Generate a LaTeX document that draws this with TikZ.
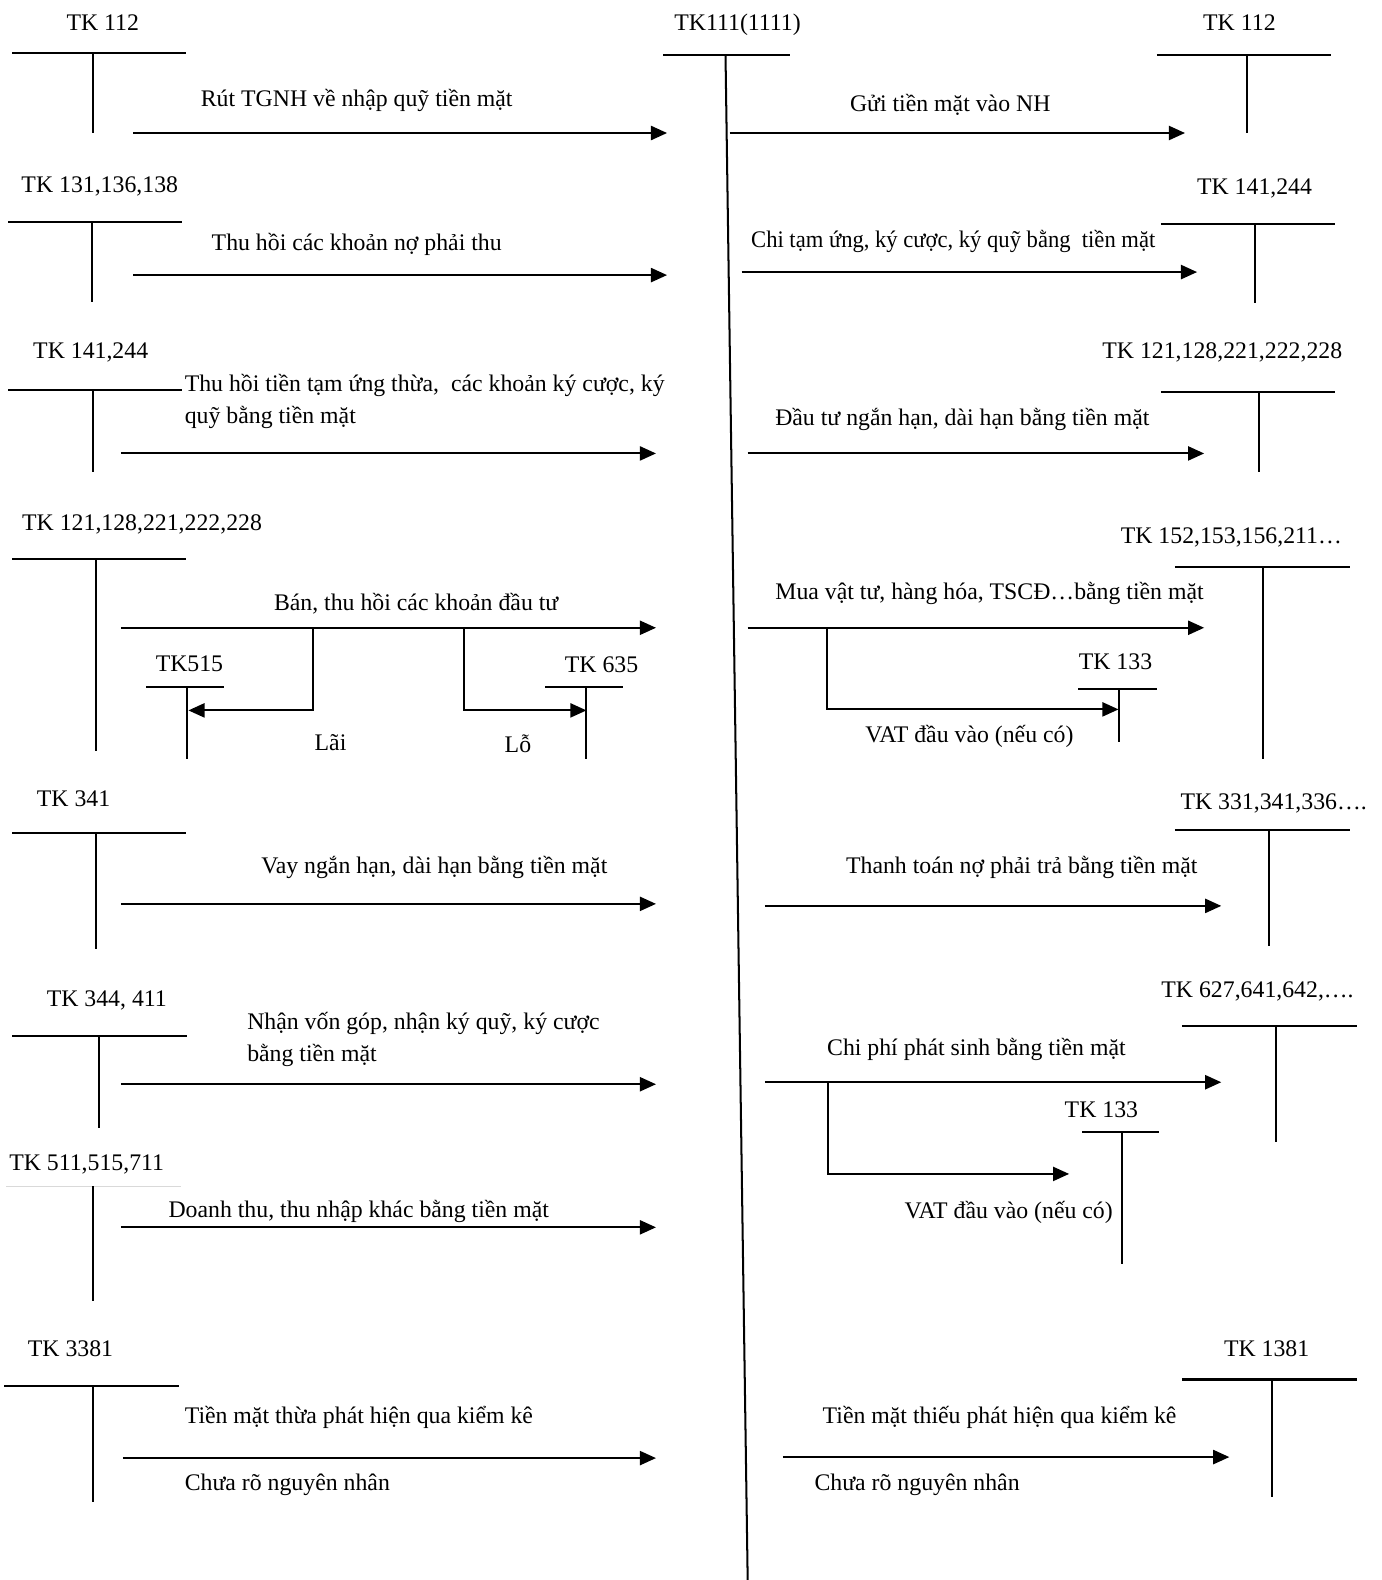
\documentclass[tikz,border=0pt]{standalone}
\usepackage{fontspec}
\setmainfont{Liberation Serif}
\usetikzlibrary{arrows.meta}

% T-account: name, label x, label baseline y, label text,
% bar left x, bar right x, bar y, stem x, stem bottom y
\newcommand\tacct[9]{%
  \node[lbl,anchor=base] (#1) at (#2,#3) {#4};
  \coordinate (#1-l) at (#5,#7);
  \coordinate (#1-r) at (#6,#7);
  \coordinate (#1-t) at (#8,#7);
  \coordinate (#1-b) at (#8,#9);
  \draw[tline] (#1-l) -- (#1-r);
  \draw[tline] (#1-t) -- (#1-b);
}

\begin{document}
\begin{tikzpicture}[x=0.5pt,y=-0.5pt,
  tline/.style={line width=1pt},
  flow/.style={line width=1pt,-{Triangle[length=8pt,width=7pt]}},
  lbl/.style={inner sep=0pt,font=\fontsize{11.8}{15.5}\selectfont},
  note/.style={lbl,anchor=base},
  notew/.style={lbl,anchor=base west,align=left}]
\useasboundingbox (0,0) rectangle (1371,1568);

% central cash account
\node[note] (k111) at (732,30) {TK111(1111)};
\coordinate (k111-l) at (658,55);
\coordinate (k111-r) at (784,55);
\coordinate (k111-t) at (720,55);
\coordinate (k111-b) at (742,1568);
\draw[tline] (k111-l) -- (k111-r);
\draw[tline] (k111-t) -- (k111-b);

% ---------------- left side (debit) ----------------
\tacct{L1}{102}{30}{TK 112}{12}{185}{53}{92}{132}
\coordinate (L1s) at (132,132); \coordinate (L1e) at (662,132);
\draw[flow] (L1s) -- (L1e);
\node[note] (L1t) at (354,106) {Rút TGNH về nhập quỹ tiền mặt};

\tacct{L2}{99}{191}{TK 131,136,138}{8}{181}{220}{91}{300}
\coordinate (L2s) at (132,273); \coordinate (L2e) at (662,273);
\draw[flow] (L2s) -- (L2e);
\node[note] (L2t) at (354,249) {Thu hồi các khoản nợ phải thu};

\tacct{L3}{90}{356}{TK 141,244}{8}{181}{387}{92}{468}
\coordinate (L3s) at (120,450); \coordinate (L3e) at (651,450);
\draw[flow] (L3s) -- (L3e);
\node[notew] (L3t) at (183,420) {Thu hồi tiền tạm ứng thừa,\ \ các khoản ký cược, ký\\quỹ bằng tiền mặt};

\tacct{L4}{141}{526}{TK 121,128,221,222,228}{12}{185}{555}{95}{745}
\coordinate (L4s) at (120,623); \coordinate (L4e) at (651,623);
\draw[flow] (L4s) -- (L4e);
\node[note] (L4t) at (413,606) {Bán, thu hồi các khoản đầu tư};
\tacct{K515}{188}{666}{TK515}{145}{222}{682}{186}{753}
\tacct{K635}{597}{667}{TK 635}{541}{618}{682}{582}{753}
\coordinate (L4a) at (311,623); \coordinate (L4ae) at (187,705);
\draw[flow] (L4a) |- (L4ae);
\coordinate (L4b) at (460,623); \coordinate (L4be) at (582,705);
\draw[flow] (L4b) |- (L4be);
\node[note] (lai) at (328,745) {Lãi};
\node[note] (lo) at (514,747) {Lỗ};

\tacct{L5}{73}{800}{TK 341}{12}{185}{827}{95}{942}
\coordinate (L5s) at (120,897); \coordinate (L5e) at (651,897);
\draw[flow] (L5s) -- (L5e);
\node[note] (L5t) at (431,867) {Vay ngắn hạn, dài hạn bằng tiền mặt};

\tacct{L6}{106}{999}{TK 344, 411}{12}{186}{1028}{98}{1119}
\coordinate (L6s) at (120,1076); \coordinate (L6e) at (651,1076);
\draw[flow] (L6s) -- (L6e);
\node[notew] (L6t) at (245,1053) {Nhận vốn góp, nhận ký quỹ, ký cược\\bằng tiền mặt};

% revenue account: faint top bar
\node[note] (L7) at (86,1162) {TK 511,515,711};
\coordinate (L7-l) at (6,1177); \coordinate (L7-r) at (180,1177);
\coordinate (L7-t) at (92,1177); \coordinate (L7-b) at (92,1291);
\draw[gray!30,line width=0.5pt] (L7-l) -- (L7-r);
\draw[tline] (L7-t) -- (L7-b);
\coordinate (L7s) at (120,1218); \coordinate (L7e) at (651,1218);
\draw[flow] (L7s) -- (L7e);
\node[note] (L7t) at (356,1208) {Doanh thu, thu nhập khác bằng tiền mặt};

\tacct{L8}{70}{1346}{TK 3381}{4}{178}{1375}{92}{1491}
\coordinate (L8s) at (122,1447); \coordinate (L8e) at (651,1447);
\draw[flow] (L8s) -- (L8e);
\node[notew] (L8t) at (183,1413) {Tiền mặt thừa phát hiện qua kiểm kê};
\node[notew] (L8u) at (183,1479) {Chưa rõ nguyên nhân};

% ---------------- right side (credit) ----------------
\tacct{R1}{1230}{30}{TK 112}{1148}{1321}{55}{1238}{132}
\coordinate (R1s) at (724,132); \coordinate (R1e) at (1176,132);
\draw[flow] (R1s) -- (R1e);
\node[note] (R1t) at (943,111) {Gửi tiền mặt vào NH};

\tacct{R2}{1245}{193}{TK 141,244}{1152}{1325}{222}{1245}{301}
\coordinate (R2s) at (736,270); \coordinate (R2e) at (1188,270);
\draw[flow] (R2s) -- (R2e);
\node[note,xscale=0.95] (R2t) at (946,246) {Chi tạm ứng, ký cược, ký quỹ bằng\ \ tiền mặt};

\tacct{R3}{1213}{356}{TK 121,128,221,222,228}{1152}{1325}{389}{1249}{468}
\coordinate (R3s) at (742,450); \coordinate (R3e) at (1195,450);
\draw[flow] (R3s) -- (R3e);
\node[note] (R3t) at (955,422) {Đầu tư ngắn hạn, dài hạn bằng tiền mặt};

\tacct{R4}{1222}{539}{TK 152,153,156,211…}{1166}{1340}{563}{1253}{753}
\coordinate (R4s) at (742,623); \coordinate (R4e) at (1195,623);
\draw[flow] (R4s) -- (R4e);
\node[note] (R4t) at (982,595) {Mua vật tư, hàng hóa, TSCĐ…bằng tiền mặt};
\tacct{K133a}{1107}{664}{TK 133}{1070}{1148}{684}{1110}{736}
\coordinate (R4a) at (821,623); \coordinate (R4ae) at (1110,704);
\draw[flow] (R4a) |- (R4ae);
\node[note] (R4v) at (962,737) {VAT đầu vào (nếu có)};

\tacct{R5}{1264}{803}{TK 331,341,336….}{1166}{1340}{824}{1259}{939}
\coordinate (R5s) at (759,899); \coordinate (R5e) at (1212,899);
\draw[flow] (R5s) -- (R5e);
\node[note] (R5t) at (1014,867) {Thanh toán nợ phải trả bằng tiền mặt};

\tacct{R6}{1248}{990}{TK 627,641,642,….}{1173}{1347}{1018}{1266}{1133}
\coordinate (R6s) at (759,1074); \coordinate (R6e) at (1212,1074);
\draw[flow] (R6s) -- (R6e);
\node[note] (R6t) at (969,1047) {Chi phí phát sinh bằng tiền mặt};
\tacct{K133b}{1093}{1109}{TK 133}{1074}{1150}{1123}{1113}{1254}
\coordinate (R6a) at (822,1074); \coordinate (R6ae) at (1061,1165);
\draw[flow] (R6a) |- (R6ae);
\node[note] (R6v) at (1001,1209) {VAT đầu vào (nếu có)};

\tacct{R7}{1257}{1346}{TK 1381}{1173}{1347}{1369}{1262}{1486}
\coordinate (R7s) at (777,1446); \coordinate (R7e) at (1220,1446);
\draw[flow] (R7s) -- (R7e);
\node[note] (R7t) at (992,1413) {Tiền mặt thiếu phát hiện qua kiểm kê};
\node[notew] (R7u) at (808,1479) {Chưa rõ nguyên nhân};
\end{tikzpicture}
\end{document}
